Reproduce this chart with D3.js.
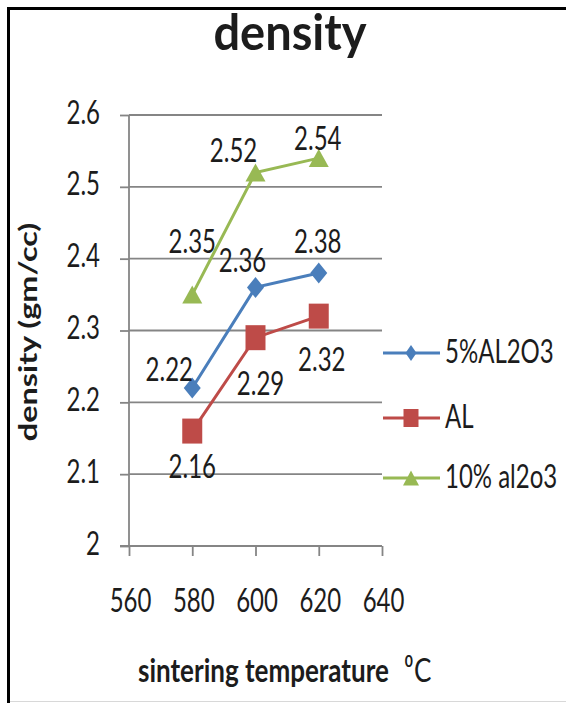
<!DOCTYPE html>
<html><head><meta charset="utf-8">
<script src="https://cdn.jsdelivr.net/npm/d3@7"></script>
<style>
body{margin:0;background:#fff}
svg{display:block}
text{font-family:Lato,"Open Sans",sans-serif;fill:#1c1c1c}
</style>
</head><body>
<svg id="chart" width="566" height="703"></svg>
<script>
// ---------- data ----------
const temperatures = [580, 600, 620];
const seriesNames = ["5%AL2O3", "AL", "10% al2o3"];
const values5Al2O3 = [2.22, 2.36, 2.38];
const valuesAl = [2.16, 2.29, 2.32];
const values10Al2O3 = [2.35, 2.52, 2.54];
const xTickValues = [560, 580, 600, 620, 640];
const yTickValues = [2, 2.1, 2.2, 2.3, 2.4, 2.5, 2.6];
const chartTitle = "density";
const xAxisTitle = "sintering temperature";
const yAxisTitle = "density (gm/cc)";

// ---------- layout / style ----------
const SY = 1.35; // vertical stretch of the glyphs seen in the reference
const colors = ["#4A7EBB", "#BE4B48", "#98B954"];
const markerTypes = ["diamond", "square", "triangle"];
const labelOffsets = [
  [[-23, -7], [-13, -15], [-1, -20]],
  [[0, 47], [5, 57], [3, 55]],
  [[0, -42], [-22, -10], [-1, -8]]
];
const seriesValues = [values5Al2O3, valuesAl, values10Al2O3];

const svg = d3.select("#chart");
const x = d3.scaleLinear().domain([560, 640]).range([129, 382]);
const y = d3.scaleLinear().domain([2, 2.6]).range([546, 115]);

// frame
svg.append("line").attr("x1", 8.5).attr("x2", 8.5).attr("y1", 7).attr("y2", 703)
  .attr("stroke", "#000").attr("stroke-width", 3);
svg.append("line").attr("x1", 7).attr("x2", 566).attr("y1", 8.5).attr("y2", 8.5)
  .attr("stroke", "#000").attr("stroke-width", 3);
svg.append("line").attr("x1", 10).attr("x2", 566).attr("y1", 701.5).attr("y2", 701.5)
  .attr("stroke", "#d8d8d8").attr("stroke-width", 1);

function stretchedText(g, str, px, py, size, opts = {}) {
  const t = g.append("text")
    .attr("transform", `translate(${px},${py})${opts.rotate ? " rotate(-90) scale(" + SY + ",1)" : " scale(1," + (opts.sy || SY) + ")"}`)
    .attr("text-anchor", opts.anchor || "middle")
    .attr("font-size", size)
    .attr("font-weight", opts.weight || "normal")
    .text(str);
  return t;
}

// gridlines
const gridColor = "#858585";
svg.append("g").selectAll("line").data(yTickValues.slice(1)).join("line")
  .attr("x1", x(560)).attr("x2", x(640))
  .attr("y1", d => y(d)).attr("y2", d => y(d))
  .attr("stroke", gridColor).attr("stroke-width", 1.8);

// axes
const yAxis = svg.append("g").attr("transform", `translate(${x(560)},0)`)
  .call(d3.axisLeft(y).tickValues(yTickValues).tickSize(9).tickFormat(d3.format("")));
const xAxis = svg.append("g").attr("transform", `translate(0,${y(2)})`)
  .call(d3.axisBottom(x).tickValues(xTickValues).tickSize(10).tickFormat(d3.format("")));
[yAxis, xAxis].forEach(a => {
  a.select(".domain").attr("stroke", gridColor).attr("stroke-width", 1.8);
  a.selectAll(".tick line").attr("stroke", gridColor).attr("stroke-width", 1.8);
  a.selectAll(".tick text").attr("font-size", 24).attr("fill", "#1c1c1c")
    .attr("font-family", "Lato, 'Open Sans', sans-serif");
});
yAxis.select(".domain").attr("d", `M0,${y(2.6)}V${y(2)}`);
xAxis.select(".domain").attr("d", `M${x(560) - 9},0H${x(640)}`);
yAxis.selectAll(".tick text").attr("x", null).attr("dy", null).attr("y", null)
  .attr("text-anchor", "end")
  .attr("transform", `translate(-29,8) scale(1,${SY})`);
xAxis.selectAll(".tick text").attr("x", null).attr("dy", null).attr("y", null)
  .attr("text-anchor", "middle")
  .attr("transform", `translate(1,66) scale(1,${SY})`);

// marker shapes
function markerPath(type, w, h) {
  const a = w / 2, b = h / 2;
  if (type === "diamond") return `M0,${-b}L${a},0L0,${b}L${-a},0Z`;
  if (type === "square") return `M${-a},${-b}H${a}V${b}H${-a}Z`;
  return `M0,${-b}L${a},${b}L${-a},${b}Z`;
}
const markerSize = { diamond: [17, 21], square: [20, 25], triangle: [20, 18] };
const legendMarkerSize = { diamond: [11, 16], square: [15, 18], triangle: [16, 15] };

// series
const line = d3.line().x(d => x(d[0])).y(d => y(d[1]));
seriesValues.forEach((vals, i) => {
  const pts = temperatures.map((t, j) => [t, vals[j]]);
  const g = svg.append("g");
  g.append("path").attr("d", line(pts)).attr("fill", "none")
    .attr("stroke", colors[i]).attr("stroke-width", 3);
  const ms = markerSize[markerTypes[i]];
  g.selectAll("path.m").data(pts).join("path").attr("class", "m")
    .attr("transform", d => `translate(${x(d[0])},${y(d[1])})`)
    .attr("d", markerPath(markerTypes[i], ms[0], ms[1]))
    .attr("fill", colors[i]);
});

// data labels
seriesValues.forEach((vals, i) => {
  const g = svg.append("g");
  vals.forEach((v, j) => {
    const off = labelOffsets[i][j];
    stretchedText(g, d3.format(".2f")(v), x(temperatures[j]) + off[0], y(v) + off[1], 24);
  });
});

// legend
const legendY = [353, 418, 478];
const lg = svg.append("g");
seriesNames.forEach((name, i) => {
  lg.append("line").attr("x1", 383).attr("x2", 440).attr("y1", legendY[i]).attr("y2", legendY[i])
    .attr("stroke", colors[i]).attr("stroke-width", 3);
  const ms = legendMarkerSize[markerTypes[i]];
  lg.append("path").attr("transform", `translate(411,${legendY[i]})`)
    .attr("d", markerPath(markerTypes[i], ms[0], ms[1])).attr("fill", colors[i]);
  stretchedText(lg, name, 445, legendY[i] + 10, 24, { anchor: "start" });
});

// titles
svg.append("text").attr("x", 290).attr("y", 50).attr("text-anchor", "middle")
  .attr("font-size", 47).attr("font-weight", "bold").attr("fill", "#111")
  .attr("transform", "translate(0,-2.5) scale(1,1.05)")
  .text(chartTitle);

stretchedText(svg, yAxisTitle, 37, 332, 24, { rotate: true, weight: "bold" });

const xt = svg.append("text")
  .attr("transform", `translate(138,682) scale(1,1.25)`)
  .attr("font-size", 26).attr("font-weight", "bold");
xt.append("tspan").text(xAxisTitle);
xt.append("tspan").attr("dx", 16).attr("font-size", 14).attr("dy", -12).text("0");
xt.append("tspan").attr("dy", 12).attr("dx", 1).attr("font-weight", "normal").text("C");
</script>
</body></html>
